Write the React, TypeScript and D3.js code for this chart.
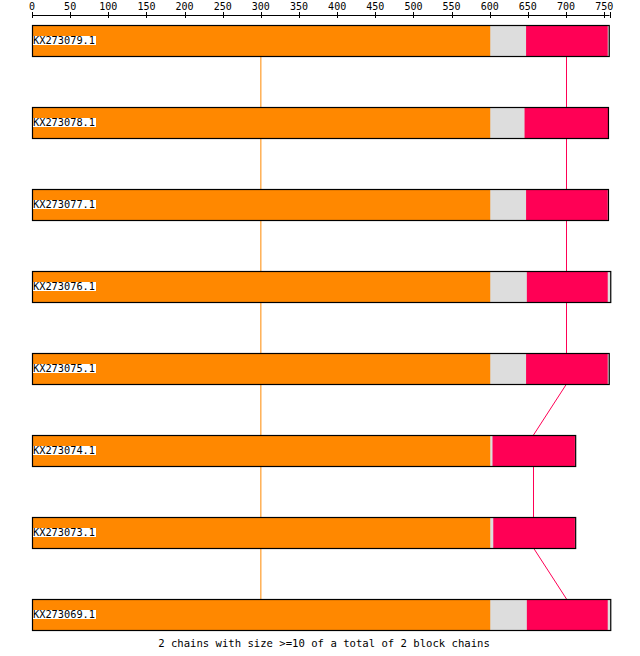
import * as d3 from 'd3';
import { useRef, useEffect } from 'react';

// sequences, top to bottom
const seqNames = ['KX273079.1', 'KX273078.1', 'KX273077.1', 'KX273076.1', 'KX273075.1', 'KX273074.1', 'KX273073.1', 'KX273069.1'];
const seqLengths = [756, 755, 755, 758, 756, 712, 712, 758];

// block chain 1 (orange)
const orangeStart = [0, 0, 0, 0, 0, 0, 0, 0];
const orangeEnd = [600, 600, 600, 600, 600, 600, 600, 600];

// block chain 2 (red)
const redStart = [647, 645, 647, 648, 647, 603, 604, 648];
const redEnd = [754, 755, 754, 754, 754, 711, 711, 754];

const axisMax = 757;
const tickStep = 50;
const footer = '2 chains with size >=10 of a total of 2 block chains';

const W = 640;
const H = 656;

const App = () => {
  const ref = useRef<SVGSVGElement>(null);

  useEffect(() => {
    if (!ref.current) return;
    const svg = d3.select(ref.current);
    svg.selectAll('*').remove();

    const font = '"DejaVu Sans Mono", monospace';
    const x = d3.scaleLinear().domain([0, axisMax]).range([32, 609.5]);
    const y = d3.scaleLinear().domain([0, 1]).range([25, 107]);
    const barH = 31;

    // top axis
    const axisY = 15.5;
    const ticks = d3.range(0, axisMax + 1, tickStep);
    const ax = svg.append('g');
    ax.append('line')
      .attr('x1', x(0)).attr('x2', x(axisMax))
      .attr('y1', axisY).attr('y2', axisY)
      .attr('stroke', 'black');
    ax.selectAll('line.tick')
      .data([...ticks, axisMax])
      .join('line')
      .attr('class', 'tick')
      .attr('x1', d => Math.round(x(d)) + 0.5).attr('x2', d => Math.round(x(d)) + 0.5)
      .attr('y1', 12).attr('y2', 18)
      .attr('stroke', 'black');
    ax.selectAll('text')
      .data(ticks)
      .join('text')
      .attr('x', d => x(d))
      .attr('y', 10)
      .attr('text-anchor', 'middle')
      .attr('font-family', font)
      .attr('font-size', 10)
      .text(d => d);

    // connectors between consecutive sequences (block centres)
    const chains = [
      { start: orangeStart, end: orangeEnd, color: '#ff8800', snap: false },
      { start: redStart, end: redEnd, color: '#ff0055', snap: true },
    ];
    const links = svg.append('g');
    chains.forEach(c => {
      const px = (v: number) => (c.snap ? Math.floor(x(v)) + 0.5 : x(v));
      for (let i = 0; i < seqNames.length - 1; i++) {
        const m0 = px((c.start[i] + c.end[i]) / 2);
        const m1 = px((c.start[i + 1] + c.end[i + 1]) / 2);
        links.append('line')
          .attr('x1', m0).attr('x2', m1)
          .attr('y1', y(i) + barH).attr('y2', y(i + 1))
          .attr('stroke', c.color)
          .attr('stroke-width', 1);
      }
    });

    // bars
    const bars = svg.append('g')
      .selectAll('g')
      .data(seqNames.map((n, i) => i))
      .join('g')
      .attr('transform', i => `translate(0,${y(i)})`);

    bars.append('rect')
      .attr('x', x(0) + 0.5)
      .attr('y', 0.5)
      .attr('width', i => x(seqLengths[i]) - x(0))
      .attr('height', barH)
      .attr('fill', '#dddddd');

    chains.forEach(c => {
      bars.append('rect')
        .attr('x', i => x(c.start[i]) + 0.5)
        .attr('y', 0.5)
        .attr('width', i => x(c.end[i]) - x(c.start[i]))
        .attr('height', barH)
        .attr('fill', c.color);
    });

    bars.append('rect')
      .attr('x', x(0) + 0.5)
      .attr('y', 0.5)
      .attr('width', i => x(seqLengths[i]) - x(0))
      .attr('height', barH)
      .attr('fill', 'none')
      .attr('stroke', 'black')
      .attr('stroke-width', 1.2);

    const labels = bars.append('g');
    labels.append('text')
      .attr('x', 33)
      .attr('y', 19)
      .attr('font-family', font)
      .attr('font-size', 10.3)
      .attr('fill', 'black')
      .text(i => seqNames[i])
      .each(function () {
        const bb = (this as SVGTextElement).getBBox();
        d3.select((this as SVGTextElement).parentNode as SVGGElement)
          .insert('rect', 'text')
          .attr('x', bb.x)
          .attr('y', 11)
          .attr('width', bb.width + 1)
          .attr('height', 9)
          .attr('fill', 'white');
      });

    svg.append('text')
      .attr('x', 324)
      .attr('y', 647)
      .attr('text-anchor', 'middle')
      .attr('font-family', font)
      .attr('font-size', 10.6)
      .text(footer);
  }, []);

  return (
    <svg
      ref={ref}
      width={W}
      height={H}
      style={{ position: 'absolute', left: 0, top: 0, background: 'white', display: 'block' }}
    />
  );
};

export default App;
